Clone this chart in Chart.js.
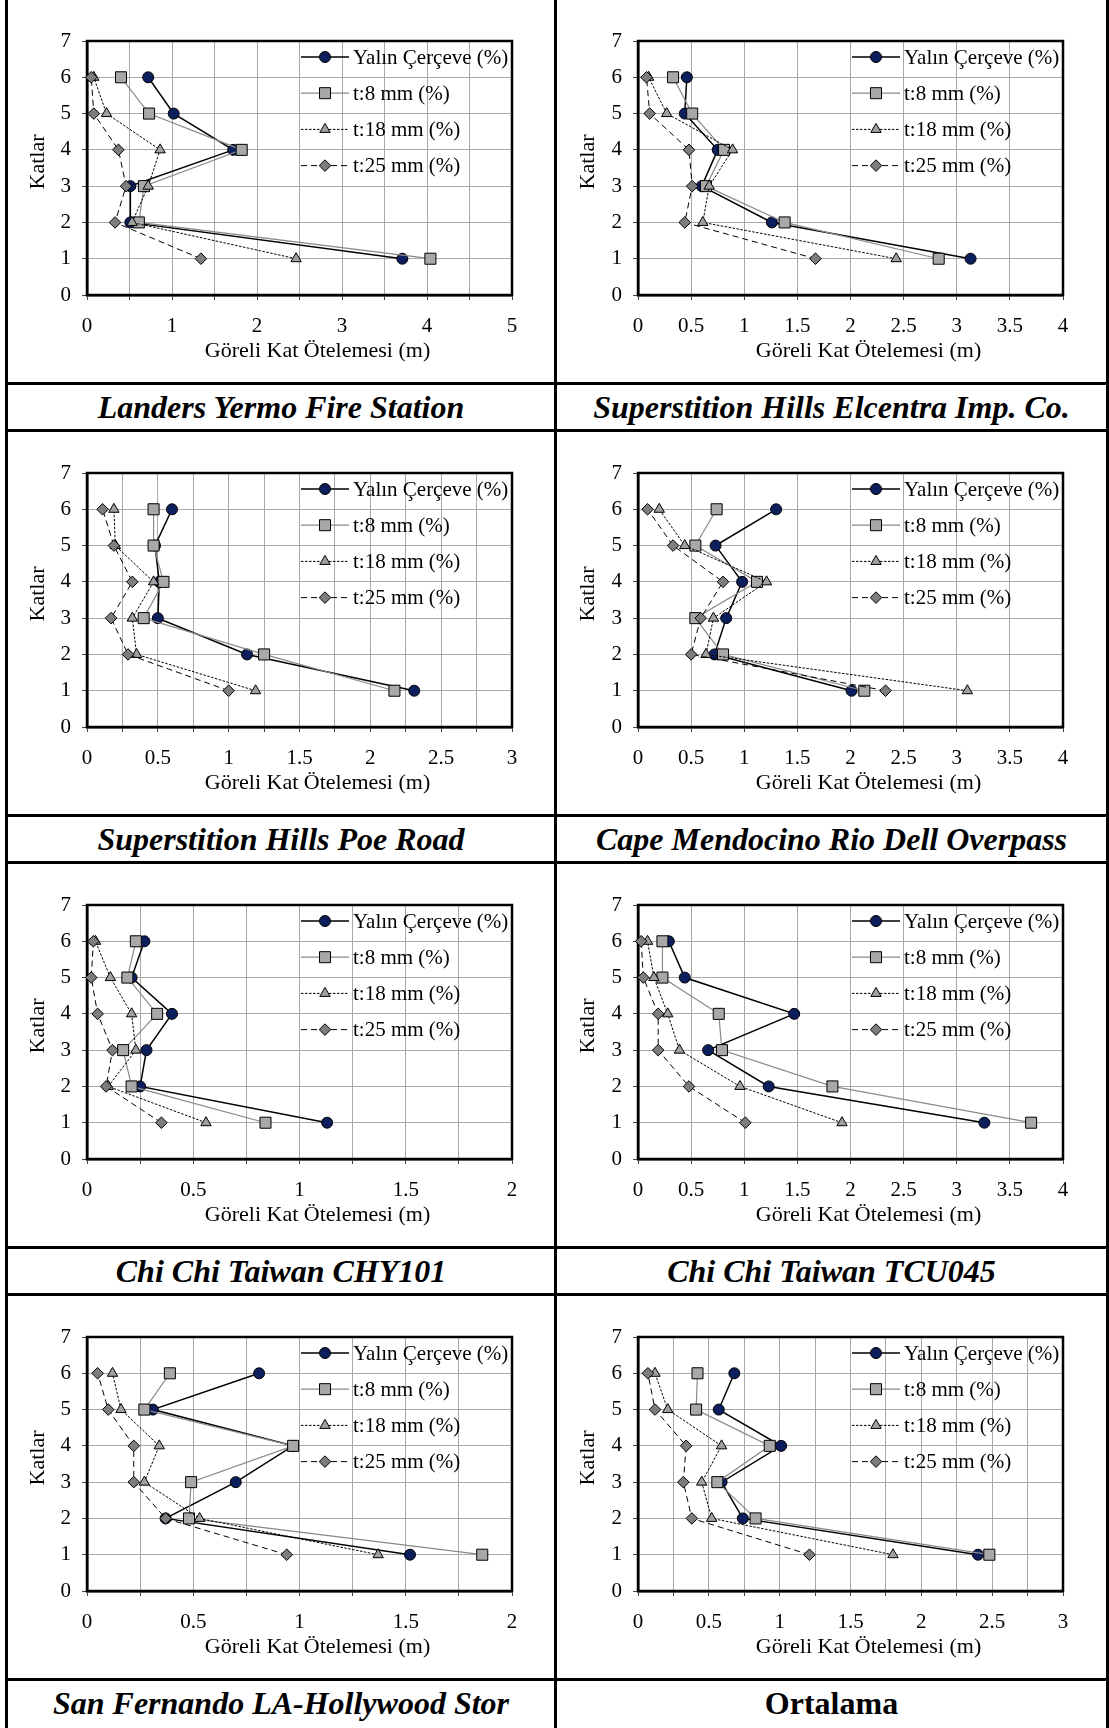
<!DOCTYPE html>
<html lang="tr">
<head>
<meta charset="utf-8">
<title>Göreli Kat Ötelemesi</title>
<script src="https://cdn.jsdelivr.net/npm/chart.js"></script>
<style>
	body { margin: 0; background: #fff; }
	.sayfa { position: relative; width: 1109px; height: 1728px; overflow: hidden; background: #fff; }
	.sayfa canvas { position: absolute; }
	.baslik {
		position: absolute; height: 46px; line-height: 46px; text-align: center;
		font-family: "Liberation Serif", "Times New Roman", serif;
		font-size: 32px; font-weight: bold; font-style: italic; color: #000;
	}
	.baslik.duz { font-style: normal; }
	.cizgi { position: absolute; background: #000; }
</style>
</head>
<body>
<div class="sayfa" id="sayfa"></div>

<script>
	// kat numaraları (y ekseni)
	const katlar = [1, 2, 3, 4, 5, 6];
	const seriAdlari = ['Yalın Çerçeve (%)', 't:8 mm (%)', 't:18 mm (%)', 't:25 mm (%)'];
	const depremler = [
		'Landers Yermo Fire Station',
		'Superstition Hills Elcentra Imp. Co.',
		'Superstition Hills Poe Road',
		'Cape Mendocino Rio Dell Overpass',
		'Chi Chi Taiwan CHY101',
		'Chi Chi Taiwan TCU045',
		'San Fernando LA-Hollywood Stor',
		'Ortalama'
	];
	const xUstSinir = [5, 4, 3, 4, 2, 4, 2, 3];

	// göreli kat ötelemeleri, 1. kattan 6. kata
	const landersYalin = [3.71, 0.51, 0.51, 1.72, 1.02, 0.72];
	const landersT8 = [4.04, 0.61, 0.67, 1.82, 0.73, 0.40];
	const landersT18 = [2.46, 0.53, 0.72, 0.86, 0.23, 0.08];
	const landersT25 = [1.34, 0.33, 0.46, 0.37, 0.08, 0.05];

	const elcentraYalin = [3.13, 1.26, 0.60, 0.75, 0.44, 0.46];
	const elcentraT8 = [2.83, 1.38, 0.64, 0.81, 0.51, 0.33];
	const elcentraT18 = [2.43, 0.61, 0.67, 0.89, 0.27, 0.10];
	const elcentraT25 = [1.67, 0.44, 0.51, 0.48, 0.11, 0.08];

	const poeYalin = [2.31, 1.13, 0.50, 0.51, 0.48, 0.60];
	const poeT8 = [2.17, 1.25, 0.40, 0.54, 0.47, 0.47];
	const poeT18 = [1.19, 0.35, 0.32, 0.47, 0.20, 0.19];
	const poeT25 = [1.00, 0.29, 0.17, 0.32, 0.19, 0.11];

	const capeYalin = [2.01, 0.72, 0.83, 0.98, 0.73, 1.30];
	const capeT8 = [2.13, 0.80, 0.54, 1.12, 0.54, 0.74];
	const capeT18 = [3.10, 0.64, 0.71, 1.21, 0.44, 0.20];
	const capeT25 = [2.33, 0.50, 0.59, 0.80, 0.33, 0.09];

	const chyYalin = [1.13, 0.25, 0.28, 0.40, 0.21, 0.27];
	const chyT8 = [0.84, 0.21, 0.17, 0.33, 0.19, 0.23];
	const chyT18 = [0.56, 0.10, 0.23, 0.21, 0.11, 0.04];
	const chyT25 = [0.35, 0.09, 0.12, 0.05, 0.02, 0.03];

	const tcuYalin = [3.26, 1.23, 0.66, 1.47, 0.44, 0.29];
	const tcuT8 = [3.70, 1.83, 0.79, 0.76, 0.23, 0.23];
	const tcuT18 = [1.92, 0.96, 0.39, 0.28, 0.15, 0.09];
	const tcuT25 = [1.01, 0.48, 0.19, 0.19, 0.05, 0.03];

	const sanFernandoYalin = [1.52, 0.37, 0.70, 0.97, 0.31, 0.81];
	const sanFernandoT8 = [1.86, 0.48, 0.49, 0.97, 0.27, 0.39];
	const sanFernandoT18 = [1.37, 0.53, 0.27, 0.34, 0.16, 0.12];
	const sanFernandoT25 = [0.94, 0.37, 0.22, 0.22, 0.10, 0.05];

	const ortalamaYalin = [2.40, 0.74, 0.59, 1.01, 0.57, 0.68];
	const ortalamaT8 = [2.48, 0.83, 0.56, 0.93, 0.41, 0.42];
	const ortalamaT18 = [1.80, 0.52, 0.45, 0.59, 0.21, 0.12];
	const ortalamaT25 = [1.21, 0.38, 0.32, 0.34, 0.12, 0.07];

	const grafikVerileri = [
		[landersYalin, landersT8, landersT18, landersT25],
		[elcentraYalin, elcentraT8, elcentraT18, elcentraT25],
		[poeYalin, poeT8, poeT18, poeT25],
		[capeYalin, capeT8, capeT18, capeT25],
		[chyYalin, chyT8, chyT18, chyT25],
		[tcuYalin, tcuT8, tcuT18, tcuT25],
		[sanFernandoYalin, sanFernandoT8, sanFernandoT18, sanFernandoT25],
		[ortalamaYalin, ortalamaT8, ortalamaT18, ortalamaT25]
	];

	const seriStilleri = [
		{ isaret: 'circle', r: 5.5, dolgu: '#0c1e5c', renk: '#000', kalinlik: 1.5, kesik: [] },
		{ isaret: 'rect', r: 7.8, dolgu: '#a8a8a8', renk: '#8a8a8a', kalinlik: 1.2, kesik: [] },
		{ isaret: 'triangle', r: 6, dolgu: '#a0a0a0', renk: '#000', kalinlik: 1, kesik: [2.5, 1.5] },
		{ isaret: 'rectRot', r: 5.8, dolgu: '#7d7d7d', renk: '#000', kalinlik: 1, kesik: [6, 4] }
	];

	const FONT = '"Liberation Serif", "Times New Roman", serif';
	const SATIR_UST = [0, 432, 864, 1296];
	const SUTUN_X = [8, 558];
	const TUVAL_G = [545, 546];
	const TUVAL_Y = 378;
	const SOL_BOSLUK = [79, 80];
	const ALT = 295;

	Chart.defaults.font.family = FONT;
	Chart.defaults.color = '#000';

	function isaretCiz(ctx, tip, r, x, y) {
		ctx.beginPath();
		if (tip === 'circle') {
			ctx.arc(x, y, r, 0, Math.PI * 2);
		} else if (tip === 'rect') {
			const s = r * Math.SQRT1_2;
			ctx.rect(x - s, y - s, s * 2, s * 2);
		} else if (tip === 'triangle') {
			ctx.moveTo(x, y - r);
			ctx.lineTo(x + 0.866 * r, y + 0.5 * r);
			ctx.lineTo(x - 0.866 * r, y + 0.5 * r);
			ctx.closePath();
		} else {
			ctx.moveTo(x, y - r);
			ctx.lineTo(x + r, y);
			ctx.lineTo(x, y + r);
			ctx.lineTo(x - r, y);
			ctx.closePath();
		}
		ctx.fill();
		ctx.stroke();
	}

	// çizim alanının kalın siyah çerçevesi
	const cerceve = {
		id: 'cerceve',
		beforeDatasetsDraw(chart) {
			const { ctx, chartArea: a } = chart;
			ctx.save();
			ctx.strokeStyle = '#000';
			ctx.lineWidth = 2.5;
			ctx.strokeRect(a.left, a.top, a.right - a.left, a.bottom - a.top);
			ctx.restore();
		}
	};

	// lejant çizim alanının sağ üstünde, eksen başlıkları
	const aciklama = {
		id: 'aciklama',
		afterDraw(chart) {
			const { ctx, chartArea: a } = chart;
			ctx.save();
			seriStilleri.forEach((s, i) => {
				const y = a.top + 16 + i * 36.2;
				const x0 = a.left + 214;
				const x1 = a.left + 262;
				ctx.strokeStyle = s.renk;
				ctx.lineWidth = s.kalinlik;
				ctx.setLineDash(s.kesik);
				ctx.beginPath();
				ctx.moveTo(x0, y);
				ctx.lineTo(x1, y);
				ctx.stroke();
				ctx.setLineDash([]);
				ctx.fillStyle = s.dolgu;
				ctx.strokeStyle = '#000';
				ctx.lineWidth = 1;
				isaretCiz(ctx, s.isaret, s.r, (x0 + x1) / 2, y);
				ctx.fillStyle = '#000';
				ctx.font = '21px ' + FONT;
				ctx.textAlign = 'left';
				ctx.textBaseline = 'middle';
				ctx.fillText(seriAdlari[i], a.left + 266, y + 1);
			});

			ctx.font = '22px ' + FONT;
			ctx.fillStyle = '#000';
			ctx.textAlign = 'center';
			ctx.textBaseline = 'alphabetic';
			ctx.fillText('Göreli Kat Ötelemesi (m)', (a.left + a.right) / 2 + 18, 357);

			ctx.translate(36, 162);
			ctx.rotate(-Math.PI / 2);
			ctx.fillText('Katlar', 0, 0);
			ctx.restore();
		}
	};

	function grafikOlustur(no) {
		const sutun = no % 2;
		const satir = Math.floor(no / 2);
		const xMax = xUstSinir[no];
		const izgaraAdimi = xMax >= 4 ? 0.5 : 0.25;
		const etiketAdimi = xMax === 5 ? 1 : 0.5;
		const seriler = grafikVerileri[no];

		const tuval = document.createElement('canvas');
		tuval.width = TUVAL_G[sutun];
		tuval.height = TUVAL_Y;
		tuval.style.left = SUTUN_X[sutun] + 'px';
		tuval.style.top = SATIR_UST[satir] + 'px';
		tuval.style.width = TUVAL_G[sutun] + 'px';
		tuval.style.height = TUVAL_Y + 'px';
		document.getElementById('sayfa').appendChild(tuval);

		const sag = TUVAL_G[sutun] - SOL_BOSLUK[sutun] - 425;

		new Chart(tuval, {
			type: 'scatter',
			data: {
				datasets: seriStilleri.map((s, i) => ({
					label: seriAdlari[i],
					data: seriler[i].map((v, k) => ({ x: v, y: katlar[k] })),
					showLine: true,
					borderColor: s.renk,
					borderWidth: s.kalinlik,
					borderDash: s.kesik,
					pointStyle: s.isaret,
					pointRadius: s.r,
					pointHoverRadius: s.r,
					pointBackgroundColor: s.dolgu,
					pointBorderColor: '#000',
					pointBorderWidth: 1,
					tension: 0,
					clip: false,
					order: 4 - i
				}))
			},
			options: {
				responsive: false,
				animation: false,
				devicePixelRatio: 1,
				events: [],
				layout: { padding: { top: 41, right: sag, left: 0, bottom: 0 } },
				plugins: { legend: { display: false }, tooltip: { enabled: false } },
				scales: {
					x: {
						type: 'linear', min: 0, max: xMax,
						afterFit: (s) => { s.height = TUVAL_Y - ALT; },
						ticks: {
							stepSize: izgaraAdimi, autoSkip: false, maxRotation: 0, padding: 14,
							font: { size: 21 }, color: '#000',
							callback: (v) => {
								const k = v / etiketAdimi;
								return Math.abs(k - Math.round(k)) < 1e-6 ? String(+v.toFixed(2)) : '';
							}
						},
						grid: { color: '#a9a9a9', lineWidth: 1, tickColor: '#444', tickLength: 5 },
						border: { display: true, color: '#000', width: 2.5 }
					},
					y: {
						type: 'linear', min: 0, max: 7,
						afterFit: (s) => { s.width = SOL_BOSLUK[sutun]; },
						ticks: { stepSize: 1, padding: 11, font: { size: 21 }, color: '#000' },
						grid: { color: '#a9a9a9', lineWidth: 1, tickColor: '#444', tickLength: 5 },
						border: { display: true, color: '#000', width: 2.5 }
					}
				}
			},
			plugins: [cerceve, aciklama]
		});

		const baslik = document.createElement('div');
		baslik.className = no === 7 ? 'baslik duz' : 'baslik';
		baslik.textContent = depremler[no];
		baslik.style.left = (sutun ? 557 : 8) + 'px';
		baslik.style.width = (sutun ? 549 : 546) + 'px';
		baslik.style.top = (SATIR_UST[satir] + 384) + 'px';
		document.getElementById('sayfa').appendChild(baslik);
	}

	function tabloCiz() {
		const sayfa = document.getElementById('sayfa');
		const yatay = [382, 429, 814, 861, 1246, 1293, 1678];
		yatay.forEach((y) => {
			const d = document.createElement('div');
			d.className = 'cizgi';
			Object.assign(d.style, { left: '5px', top: y + 'px', width: '1104px', height: '3px' });
			sayfa.appendChild(d);
		});
		[5, 554, 1106].forEach((x) => {
			const d = document.createElement('div');
			d.className = 'cizgi';
			Object.assign(d.style, { left: x + 'px', top: '0px', width: '3px', height: '1728px' });
			sayfa.appendChild(d);
		});
	}

	for (let i = 0; i < 8; i++) grafikOlustur(i);
	tabloCiz();
</script>
</body>
</html>
